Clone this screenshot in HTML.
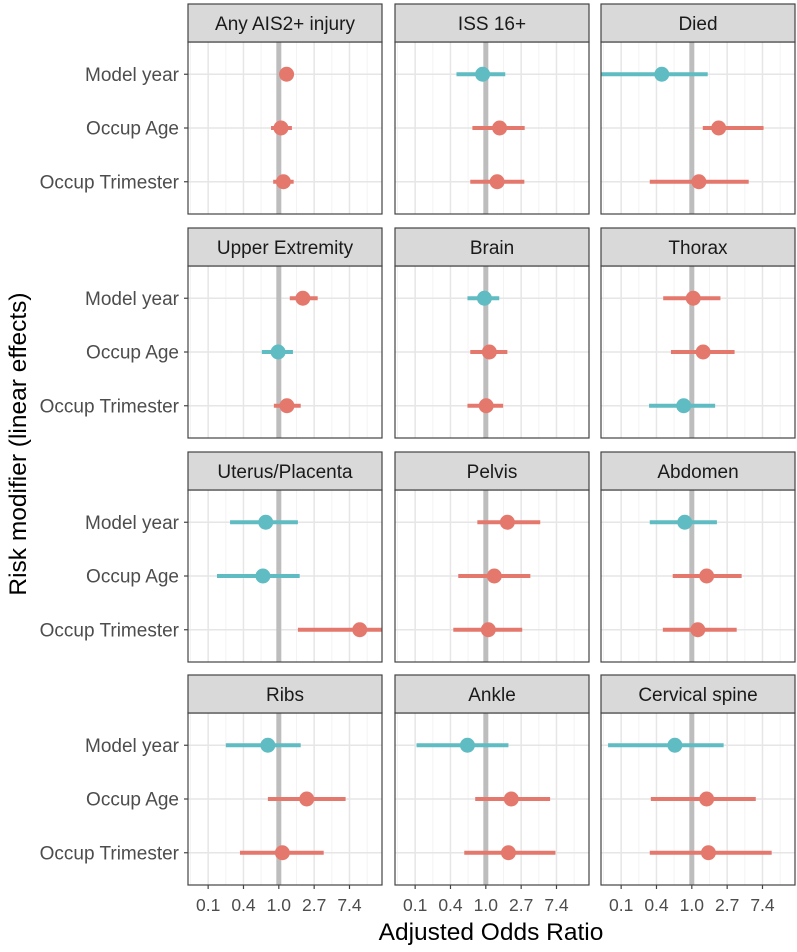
<!DOCTYPE html>
<html><head><meta charset="utf-8"><style>
body{margin:0;background:#fff;}
svg text{font-family:"Liberation Sans",Arial,sans-serif;}
</style></head><body>
<svg id="chart" width="797" height="947" xmlns="http://www.w3.org/2000/svg"></svg>
<script>
const panels = ["Any AIS2+ injury","ISS 16+","Died","Upper Extremity","Brain","Thorax","Uterus/Placenta","Pelvis","Abdomen","Ribs","Ankle","Cervical spine"];
const modifiers = ["Model year","Occup Age","Occup Trimester"];
// log odds ratio estimates per panel (rows: model year, age, trimester)
const estimates = [
 [0.22,0.06,0.13],[-0.09,0.39,0.32],[-0.85,0.76,0.2],
 [0.68,-0.02,0.23],[-0.04,0.1,0.01],[0.04,0.32,-0.23],
 [-0.37,-0.45,2.29],[0.61,0.24,0.07],[-0.2,0.42,0.17],
 [-0.31,0.79,0.1],[-0.52,0.72,0.64],[-0.48,0.42,0.47]];
const lower = [
 [0.12,-0.22,-0.16],[-0.83,-0.38,-0.44],[-2.8,0.31,-1.19],
 [0.31,-0.48,-0.14],[-0.52,-0.44,-0.52],[-0.81,-0.59,-1.21],
 [-1.38,-1.75,0.54],[-0.24,-0.78,-0.92],[-1.19,-0.54,-0.82],
 [-1.5,-0.31,-1.1],[-1.96,-0.3,-0.61],[-2.37,-1.16,-1.19]];
const upper = [
 [0.32,0.37,0.42],[0.55,1.1,1.09],[0.45,2.03,1.61],
 [1.1,0.4,0.62],[0.38,0.61,0.49],[0.81,1.21,0.66],
 [0.54,0.59,3.2],[1.54,1.26,1.03],[0.71,1.41,1.27],
 [0.62,1.89,1.27],[0.64,1.82,1.97],[0.9,1.81,2.26]];
const tickValues = [-2,-1,0,1,2];
const tickLabels = ["0.1","0.4","1.0","2.7","7.4"];

const NS="http://www.w3.org/2000/svg";
const svg=document.getElementById('chart');
function mk(tag,attrs,parent){const e=document.createElementNS(NS,tag);for(const k in attrs)e.setAttribute(k,attrs[k]);(parent||svg).appendChild(e);return e;}
const colX=[188,395,601], panelW=194;
const rowStripTop=[4,228,452,675], stripH=38, bodyH=172;
const xmin=-2.57, xmax=2.92;
function xScale(col,v){return colX[col]+(v-xmin)/(xmax-xmin)*panelW;}
function yScale(row,i){const top=rowStripTop[row]+stripH;return top+bodyH*(0.6+i)/3.2;}

const defs=mk('defs',{});
panels.forEach((name,p)=>{
  const col=p%3,row=Math.floor(p/3);
  const top=rowStripTop[row]+stripH, x0=colX[col];
  const g=mk('g',{});
  
  
  const cp=mk('clipPath',{id:'cp'+p},defs);
  mk('rect',{x:x0,y:top,width:panelW,height:bodyH},cp);
  mk('rect',{x:x0,y:top,width:panelW,height:bodyH,fill:'#fff'},g);
  for(let v=-2.5;v<=2.5;v+=1){mk('line',{x1:xScale(col,v),x2:xScale(col,v),y1:top,y2:top+bodyH,stroke:'#f3f3f3','stroke-width':1},g);}
  tickValues.forEach(v=>mk('line',{x1:xScale(col,v),x2:xScale(col,v),y1:top,y2:top+bodyH,stroke:'#e6e6e6','stroke-width':1.5},g));
  modifiers.forEach((m,i)=>mk('line',{x1:x0,x2:x0+panelW,y1:yScale(row,i),y2:yScale(row,i),stroke:'#e6e6e6','stroke-width':1.5},g));
  mk('line',{x1:xScale(col,0),x2:xScale(col,0),y1:top,y2:top+bodyH,stroke:'#bdbdbd','stroke-width':5},g);
  const dg=mk('g',{'clip-path':'url(#cp'+p+')'},g);
  modifiers.forEach((m,i)=>{
    const c=estimates[p][i]<0?'#5fbcc2':'#e4786c';
    const y=yScale(row,i);
    const l=mk('line',{x1:xScale(col,lower[p][i]),x2:xScale(col,upper[p][i]),y1:y,y2:y,stroke:c,'stroke-width':4},dg);
    
    
    const pt=mk('circle',{cx:xScale(col,estimates[p][i]),cy:y,r:7.5,fill:c},dg);
    
    
  });
  mk('rect',{x:x0,y:top,width:panelW,height:bodyH,fill:'none',stroke:'#444','stroke-width':1.2},g);
  const st=mk('rect',{x:x0,y:rowStripTop[row],width:panelW,height:stripH,fill:'#d9d9d9',stroke:'#444','stroke-width':1.2},g);
  
  
  const t=mk('text',{x:x0+panelW/2,y:rowStripTop[row]+26,'text-anchor':'middle','font-size':19,fill:'#1a1a1a'},g);
  t.textContent=name;
  
  
  if(col===0){modifiers.forEach((m,i)=>{
    const y=yScale(row,i);
    mk('line',{x1:184,x2:188,y1:y,y2:y,stroke:'#444','stroke-width':1.2});
    const lt=mk('text',{x:179,y:y+6.5,'text-anchor':'end','font-size':19,fill:'#4d4d4d'});
    lt.textContent=m;
    
    
  });}
  if(row===3){tickValues.forEach((v,k)=>{
    const x=xScale(col,v);
    mk('line',{x1:x,x2:x,y1:top+bodyH,y2:top+bodyH+4,stroke:'#444','stroke-width':1.2});
    const tt=mk('text',{x:x,y:top+bodyH+26,'text-anchor':'middle','font-size':17.5,fill:'#4d4d4d'});
    tt.textContent=tickLabels[k];
    
    
  });}
});
const xt=mk('text',{x:491,y:940,'text-anchor':'middle','font-size':24.5,fill:'#000'});
xt.textContent='Adjusted Odds Ratio';


const yt=mk('text',{x:0,y:0,'text-anchor':'middle','font-size':24.5,fill:'#000',transform:'translate(26,444) rotate(-90)'});
yt.textContent='Risk modifier (linear effects)';


</script>
</body></html>
